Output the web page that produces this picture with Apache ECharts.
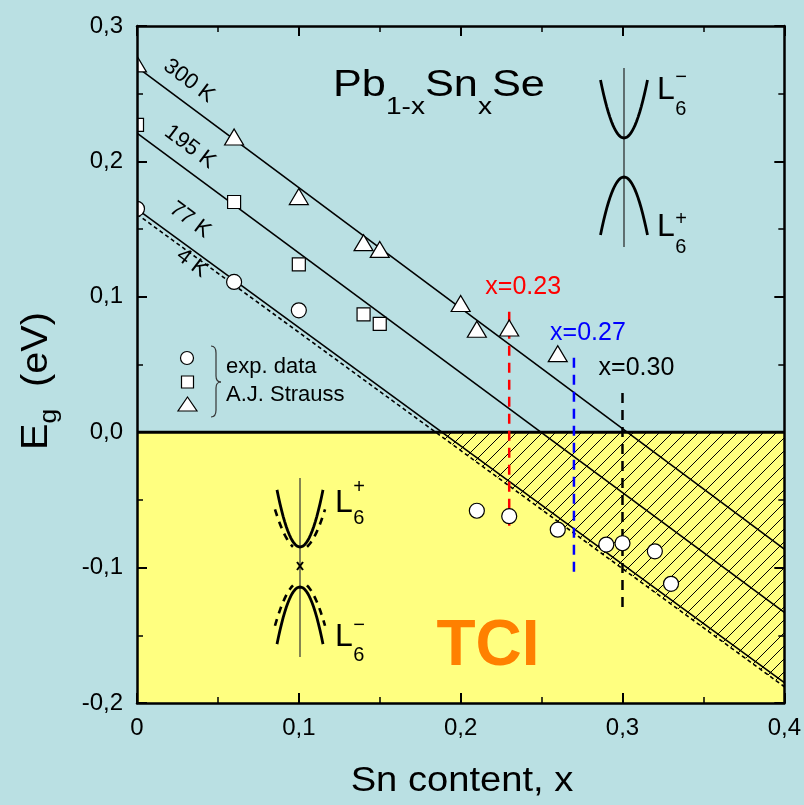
<!DOCTYPE html>
<html><head><meta charset="utf-8">
<script src="https://cdn.jsdelivr.net/npm/echarts@6/dist/echarts.min.js"></script>
<style>html,body{margin:0;padding:0;background:#bae0e3}#c{width:804px;height:805px}</style>
</head><body><div id="c"></div>
<script>
// ---- data ----
const xTicks = [0, 0.1, 0.2, 0.3, 0.4];
const yTicks = [-0.2, -0.1, 0, 0.1, 0.2, 0.3];
const fit300 = [[0, 0.2696], [0.4, -0.0864]];
const fit195 = [[0, 0.2209], [0.4, -0.133]];
const fit77  = [[0, 0.1647], [0.4, -0.185]];
const fit4   = [[0, 0.161],  [0.4, -0.188]];
const strauss300X = [0, 0.06, 0.1, 0.14, 0.15, 0.2, 0.21, 0.23, 0.26];
const strauss300Y = [0.272, 0.218, 0.174, 0.140, 0.135, 0.095, 0.076, 0.077, 0.058];
const strauss195X = [0, 0.06, 0.1, 0.14, 0.15];
const strauss195Y = [0.227, 0.170, 0.124, 0.087, 0.080];
const expX = [0, 0.06, 0.1, 0.21, 0.23, 0.26, 0.29, 0.30, 0.32, 0.33];
const expY = [0.165, 0.111, 0.090, -0.058, -0.062, -0.072, -0.083, -0.082, -0.088, -0.112];
const markerX = [0.23, 0.27, 0.30];
const markerTop = [0.089, 0.055, 0.029];
const markerBottom = [-0.071, -0.106, -0.133];
const markerLabels = ['x=0.23', 'x=0.27', 'x=0.30'];
const markerColors = ['#ff0000', '#0000ff', '#000000'];
const curveLabels = ['300 K', '195 K', '77 K', '4 K'];

// ---- style ----
const FONT = '"Liberation Sans", Arial, sans-serif';
const BG = '#bae0e3', YELLOW = '#ffff80';
const xMin = xTicks[0], xMax = xTicks[xTicks.length - 1];
const yMin = yTicks[0], yMax = yTicks[yTicks.length - 1];

const mctx = document.createElement('canvas').getContext('2d');
function tw(t, size, bold) { mctx.font = (bold ? 'bold ' : '') + size + 'px ' + FONT; return mctx.measureText(t).width; }
function T(x, y, text, size, o) {
  o = o || {};
  return { type: 'text', x: x, y: y, rotation: o.rot || 0, scaleX: o.sx || 1, z: 100,
    style: { text: text, font: (o.bold ? 'bold ' : '') + size + 'px ' + FONT, fill: o.color || '#000',
      align: o.align || 'left', verticalAlign: 'middle', textAlign: o.align || 'left', textVerticalAlign: 'middle' } };
}
function row(parts) {
  let cx = 0;
  return parts.map(p => { const el = T(cx, p[2], p[0], p[1]); cx += tw(p[0], p[1]); return el; });
}
function fmtY(v) { if (Math.abs(v) < 1e-9) return '0,0'; return v.toFixed(1).replace('.', ','); }
function fmtX(v) { if (Math.abs(v) < 1e-9) return '0'; return v.toFixed(1).replace('.', ','); }

function hatchCanvas() {
  const s = 13, c = document.createElement('canvas'); c.width = s; c.height = s;
  const g = c.getContext('2d'); g.strokeStyle = '#000'; g.lineWidth = 1;
  g.beginPath(); g.moveTo(0, s); g.lineTo(s, 0); g.moveTo(-2, 2); g.lineTo(2, -2); g.moveTo(s - 2, s + 2); g.lineTo(s + 2, s - 2); g.stroke();
  return c;
}
const HATCH = hatchCanvas();

function mkX(pos, labels) {
  return { type: 'value', position: pos, min: xMin, max: xMax, interval: xTicks[1] - xTicks[0], z: 10,
    axisLine: { show: true, onZero: false, lineStyle: { color: '#000', width: 2.5 } },
    axisTick: { show: true, inside: true, length: 10, lineStyle: { color: '#000', width: 2 } },
    minorTick: { show: true, splitNumber: 2, length: 6, lineStyle: { color: '#000', width: 1.5 } },
    splitLine: { show: false }, minorSplitLine: { show: false },
    axisLabel: { show: labels, formatter: fmtX, fontSize: 24, color: '#000', fontFamily: FONT, margin: 13 } };
}
function mkY(pos, labels) {
  return { type: 'value', position: pos, min: yMin, max: yMax, interval: yTicks[1] - yTicks[0], z: 10,
    axisLine: { show: true, onZero: false, lineStyle: { color: '#000', width: 2.5 } },
    axisTick: { show: true, inside: true, length: 10, lineStyle: { color: '#000', width: 2 } },
    minorTick: { show: true, splitNumber: 2, length: 6, lineStyle: { color: '#000', width: 1.5 } },
    splitLine: { show: false }, minorSplitLine: { show: false },
    axisLabel: { show: labels, formatter: fmtY, fontSize: 24, color: '#000', fontFamily: FONT, margin: 14 } };
}
function fitLine(d, dashed) {
  return { type: 'line', data: d, symbol: 'none', z: 3, silent: true,
    lineStyle: { color: '#000', width: 1.6, type: dashed ? [4, 3] : 'solid' } };
}
function scat(xs, ys, sym, size) {
  return { type: 'scatter', data: xs.map((x, i) => [x, ys[i]]), symbol: sym, symbolSize: size, z: 6,
    itemStyle: { color: '#fff', borderColor: '#000', borderWidth: 1.2, opacity: 1 } };
}
const slope4 = (fit4[1][1] - fit4[0][1]) / (fit4[1][0] - fit4[0][0]);
const x0_4 = -fit4[0][1] / slope4;

const series = [
  { type: 'custom', z: 1, silent: true, data: [[xMin, yMin]],
    renderItem: (p, api) => {
      const a = api.coord([xMin, yMin]), b = api.coord([xMax, 0]);
      return { type: 'rect', shape: { x: a[0], y: b[1], width: b[0] - a[0], height: a[1] - b[1] }, style: { fill: YELLOW } };
    } },
  { type: 'custom', z: 2, silent: true, data: [[xMax, 0]],
    renderItem: (p, api) => {
      const pts = [api.coord([x0_4, 0]), api.coord([xMax, 0]), api.coord([xMax, fit4[0][1] + slope4 * xMax])];
      return { type: 'polygon', shape: { points: pts }, style: { fill: { image: HATCH, repeat: 'repeat' }, stroke: null } };
    } },
  fitLine(fit300), fitLine(fit195), fitLine(fit77), fitLine(fit4, true),
  { type: 'line', data: [[xMin, 0], [xMax, 0]], symbol: 'none', z: 4, silent: true, lineStyle: { color: '#000', width: 3 } }
];
markerX.forEach((x, i) => series.push({ type: 'line', data: [[x, markerTop[i]], [x, markerBottom[i]]], symbol: 'none', z: 4, silent: true,
  lineStyle: { color: markerColors[i], width: 2.5, type: [10, 7] } }));
series.push(scat(expX, expY, 'circle', 15));
series.push(scat(strauss195X, strauss195Y, 'rect', 13));
series.push(scat(strauss300X, strauss300Y, 'triangle', [19, 16]));

const chart = echarts.init(document.getElementById('c'), null, { renderer: 'canvas' });
chart.setOption({
  backgroundColor: BG, animation: false,
  grid: { left: 137, right: 18, top: 26, bottom: 102 },
  xAxis: [mkX('bottom', true), mkX('top', false)],
  yAxis: [mkY('left', true), mkY('right', false)],
  series: series
});

// ---- annotations ----
function parab(cx, vy, k, d0, d1, dir) {
  const pts = []; const n = 30;
  for (let i = 0; i <= n; i++) { const dx = d0 + (d1 - d0) * i / n; pts.push([cx + dx, vy + dir * k * dx * dx]); }
  return pts;
}
function PL(pts, w, dash, color) {
  return { type: 'polyline', z: 100, shape: { points: pts }, style: { stroke: color || '#000', lineWidth: w, fill: null, lineDash: dash || null } };
}
function LN(x1, y1, x2, y2, w, color) {
  return { type: 'line', z: 100, shape: { x1: x1, y1: y1, x2: x2, y2: y2 }, style: { stroke: color || '#000', lineWidth: w } };
}
function Lab(x, ym, sup, ysup, ysub) {
  const wL = tw('L', 32);
  return [T(x, ym, 'L', 32), T(x + wL + 0.5, ysup, sup, 20), T(x + wL + 0.5, ysub, '6', 20)];
}
const g = [];
// mask left of plot so markers at x=0 appear clipped by the frame
const leftPx = chart.convertToPixel({ gridIndex: 0 }, [xMin, yMax]);
g.push({ type: 'rect', z: 8, silent: true, shape: { x: 0, y: 0, width: leftPx[0], height: 805 }, style: { fill: BG } });
// title
g.push({ type: 'group', x: 333, y: 86, scaleX: 1.17, children: row([['Pb', 37, 0], ['1-x', 24, 21], ['Sn', 37, 0], ['x', 24, 21], ['Se', 37, 0]]) });
// y axis name
g.push({ type: 'group', x: 37, y: 450, rotation: Math.PI / 2, scaleX: 1.1, children: row([['E', 36, 0], ['g', 24, 12], ['  (eV)', 36, 0]]) });
// x axis name
g.push(T(462, 781, 'Sn content, x', 35, { align: 'center', sx: 1.09 }));
// curve labels
const rot = -0.644;
g.push(T(189, 81, curveLabels[0], 22, { align: 'center', rot: rot }));
g.push(T(190, 147, curveLabels[1], 22, { align: 'center', rot: rot }));
g.push(T(190, 220, curveLabels[2], 22, { align: 'center', rot: rot }));
g.push(T(192, 263, curveLabels[3], 22, { align: 'center', rot: rot }));
// legend
g.push({ type: 'circle', z: 100, shape: { cx: 187, cy: 358, r: 6.5 }, style: { fill: '#fff', stroke: '#000', lineWidth: 1.2 } });
g.push({ type: 'rect', z: 100, shape: { x: 181.5, y: 376, width: 12, height: 12 }, style: { fill: '#fff', stroke: '#000', lineWidth: 1.2 } });
g.push({ type: 'polygon', z: 100, shape: { points: [[187.5, 397], [197, 411], [178, 411]] }, style: { fill: '#fff', stroke: '#000', lineWidth: 1.2 } });
g.push({ type: 'bezierCurve', z: 100, shape: { x1: 211, y1: 346, x2: 216, y2: 353, cpx1: 216, cpy1: 346 }, style: { stroke: '#333', lineWidth: 1.2, fill: null } });
g.push(LN(216, 353, 216, 376, 1.2, '#333'));
g.push({ type: 'bezierCurve', z: 100, shape: { x1: 216, y1: 376, x2: 221, y2: 382, cpx1: 216, cpy1: 382 }, style: { stroke: '#333', lineWidth: 1.2, fill: null } });
g.push({ type: 'bezierCurve', z: 100, shape: { x1: 221, y1: 382, x2: 216, y2: 388, cpx1: 216, cpy1: 382 }, style: { stroke: '#333', lineWidth: 1.2, fill: null } });
g.push(LN(216, 388, 216, 410, 1.2, '#333'));
g.push({ type: 'bezierCurve', z: 100, shape: { x1: 216, y1: 410, x2: 211, y2: 417, cpx1: 216, cpy1: 417 }, style: { stroke: '#333', lineWidth: 1.2, fill: null } });
g.push(T(226, 367, 'exp. data', 22));
g.push(T(226, 395, 'A.J. Strauss', 22));
// band diagram upper right
g.push(LN(624, 68, 624, 247, 1.2, '#222'));
g.push(PL(parab(624, 138, 0.105, -23.5, 23.5, -1), 2.8));
g.push(PL(parab(624, 177, 0.105, -23.5, 23.5, 1), 2.8));
Lab(657, 90, '\u2212', 77, 109).forEach(e => g.push(e));
Lab(657, 227, '+', 219, 247).forEach(e => g.push(e));
// band diagram lower left
g.push(LN(300, 478, 300, 657, 1.2, '#333'));
g.push(PL(parab(300, 547, 0.108, -23, 23, -1), 2.8));
g.push(PL(parab(300, 587, 0.108, -23, 23, 1), 2.8));
g.push(PL(parab(300, 550, 0.065, -25, -7, -1), 2.6, [7, 6]));
g.push(PL(parab(300, 550, 0.065, 7, 25, -1), 2.6, [7, 6]));
g.push(PL(parab(300, 582, 0.070, -25, -7, 1), 2.6, [7, 6]));
g.push(PL(parab(300, 582, 0.070, 7, 25, 1), 2.6, [7, 6]));
g.push(LN(297, 562, 303, 570, 2)); g.push(LN(303, 562, 297, 570, 2));
Lab(335, 503, '+', 487, 518).forEach(e => g.push(e));
Lab(335, 637, '\u2212', 625, 655).forEach(e => g.push(e));
// TCI
g.push(T(488, 647, 'TCI', 64, { align: 'center', bold: true, color: '#ff8000' }));
// composition marker labels
markerX.forEach((x, i) => {
  const p = chart.convertToPixel({ gridIndex: 0 }, [x, markerTop[i]]);
  g.push(T(p[0] + 14, p[1] - 25, markerLabels[i], 25, { align: 'center', color: markerColors[i] }));
});
chart.setOption({ graphic: { elements: g } });
</script>
</body></html>
